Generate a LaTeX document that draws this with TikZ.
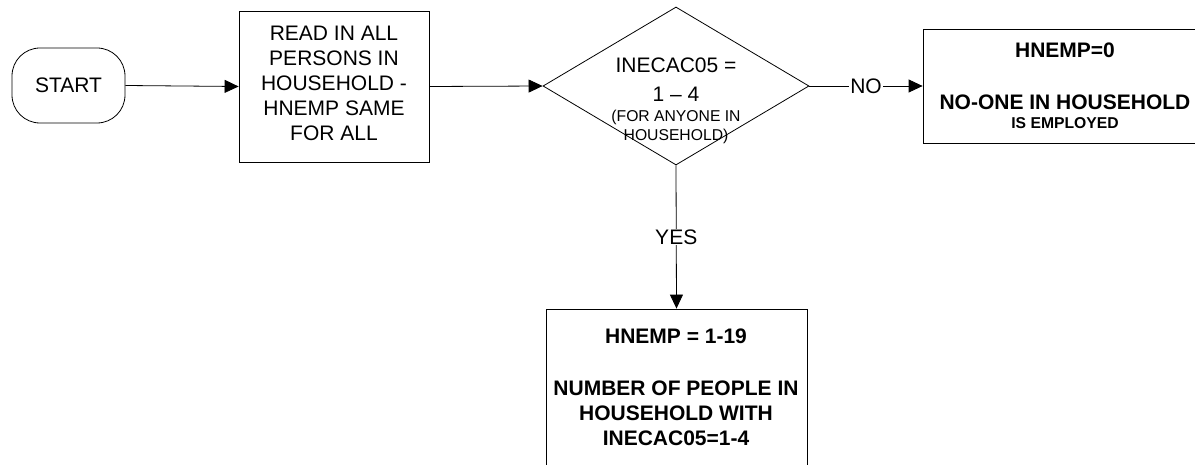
\documentclass[tikz,border=0pt]{standalone}
\usepackage{fontspec}
\setmainfont{Liberation Sans}
\usetikzlibrary{arrows.meta,shapes.geometric}
\begin{document}
\begin{tikzpicture}[x=1pt,y=-1pt,
  shapeline/.style={draw=black,line width=0.8pt},
  boxshape/.style={shapeline,rectangle,inner sep=0pt},
  termshape/.style={shapeline,rectangle,rounded corners=28pt,inner sep=0pt,minimum width=113pt,minimum height=75pt,font=\fontsize{21}{25}\selectfont},
  decshape/.style={shapeline,diamond,inner sep=0pt,minimum width=266pt,minimum height=158pt},
  bigtxt/.style={font=\fontsize{21}{25}\selectfont,align=center,inner sep=0pt},
  smalltxt/.style={font=\fontsize{15.7}{19}\selectfont,align=center,inner sep=0pt},
  bigbold/.style={font=\fontsize{21}{25}\selectfont\bfseries,inner sep=0pt,anchor=base},
  smallbold/.style={font=\fontsize{15.7}{19}\selectfont\bfseries,inner sep=0pt,anchor=base},
  flow/.style={draw=black,line width=0.8pt,-{Triangle[length=14pt,width=13pt]}},
  lbl/.style={fill=white,font=\fontsize{21}{25}\selectfont,inner sep=1pt}
]
\useasboundingbox (0,0) rectangle (1195,465);
\clip (0,0) rectangle (1195,465);

% START
\node[termshape] (start) at (68.5,85.5) {START};

% read box
\node[boxshape,minimum width=190pt,minimum height=151pt] (read) at (334,86.5) {};
\node[bigtxt] (readtxt) at (334,83.2) {READ IN ALL\\PERSONS IN\\HOUSEHOLD -\\HNEMP SAME\\FOR ALL};

% decision
\node[decshape] (dec) at (676,86) {};
\node[bigtxt,anchor=base] (dect1) at (676,73) {INECAC05 =};
\node[bigtxt,anchor=base] (dect2) at (676,101.5) {1 – 4};
\node[smalltxt,anchor=base] (dect3) at (676,121.5) {(FOR ANYONE IN};
\node[smalltxt,anchor=base] (dect4) at (676,140.5) {HOUSEHOLD)};

% right box (cut off at the page edge)
\node[boxshape,minimum width=284pt,minimum height=114pt] (nobox) at (1065,86) {};
\node[bigbold] (not1) at (1065,57.3) {HNEMP=0};
\node[bigbold] (not2) at (1065,109.3) {NO-ONE IN HOUSEHOLD};
\node[smallbold] (not3) at (1065,129) {IS EMPLOYED};

% bottom box (cut off at the page edge)
\node[boxshape,minimum width=261pt,minimum height=165pt] (yesbox) at (676.5,391.5) {};
\node[bigbold] (yest1) at (676,343.3) {HNEMP = 1-19};
\node[bigbold] (yest2) at (676,395) {NUMBER OF PEOPLE IN};
\node[bigbold] (yest3) at (676,420) {HOUSEHOLD WITH};
\node[bigbold] (yest4) at (676,445) {INECAC05=1-4};

% connectors
\draw[flow] (start.east) -- (read.west);
\draw[flow] (read.east) -- (dec.west);
\draw[flow] (dec.east) -- node[lbl] (nolbl) {NO} (nobox.west);
\draw[flow] (dec.south) -- node[lbl] (yeslbl) {YES} (yesbox.north);
\end{tikzpicture}
\end{document}
